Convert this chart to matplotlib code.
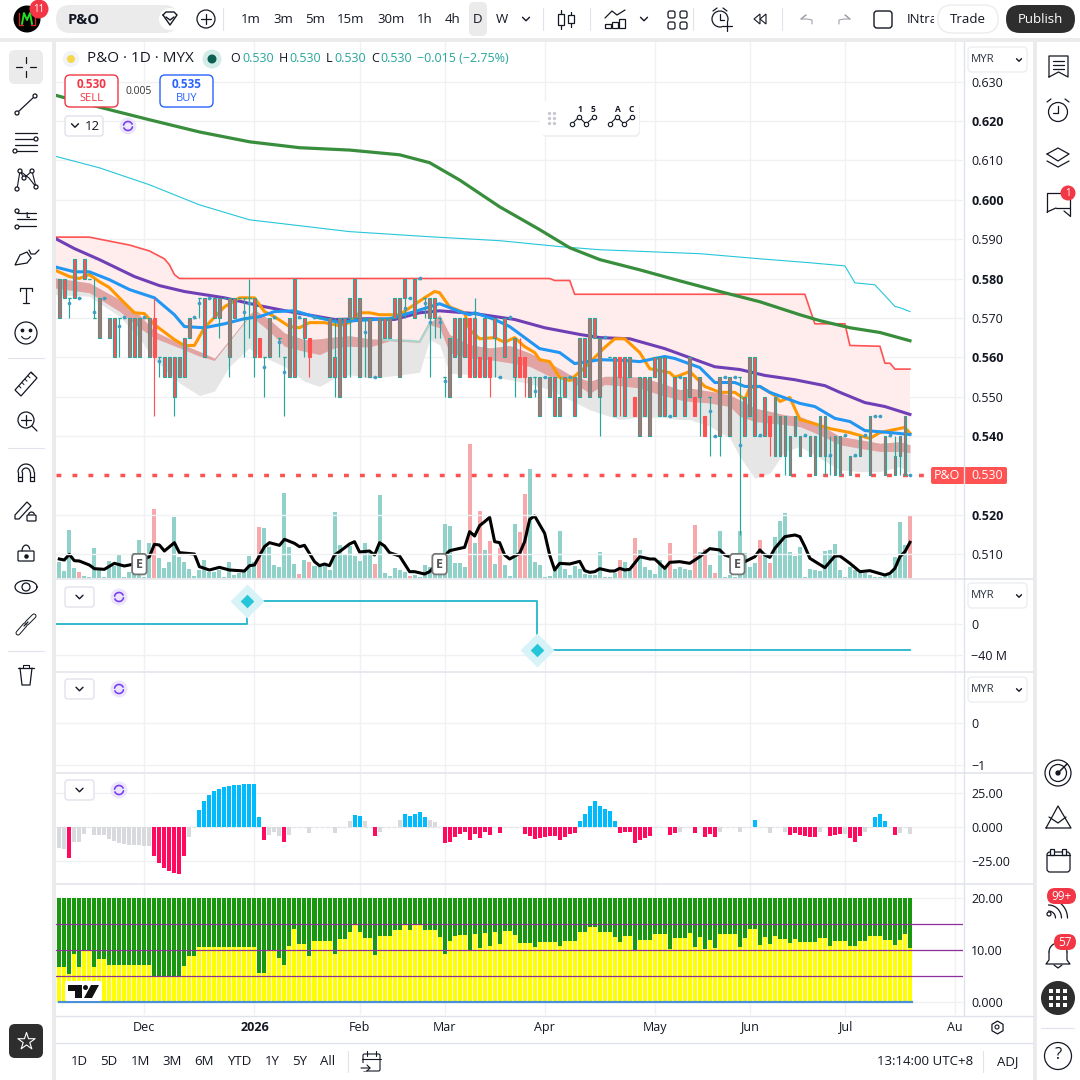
import numpy as np
import matplotlib
matplotlib.use('Agg')
import matplotlib.pyplot as plt
from matplotlib.patches import FancyBboxPatch, Circle, Rectangle, Polygon

plt.rcParams['font.family'] = ['Open Sans', 'DejaVu Sans']

# ---- data ----
candle_top = np.array([
    580,580,575,585,575,585,580,570,575,575, 570,570,570,570,570,570,570,570,570,570,
    560,560,560,560,560,565,570,570,575,575, 575,575,575,575,575,575,575,575,575,575,
    565,560,570,570,565,560,570,580,570,570, 565,570,570,570,570,560,570,570,575,580,
    575,570,570,555,570,570,570,575,575,580, 575,580,580,575,575,575,570,555,565,570,
    570,570,570,570,560,570,560,570,555,570, 570,565,560,560,555,555,555,555,555,555,
    550,555,555,555,565,565,570,570,565,565, 560,560,560,560,560,550,555,555,555,560,
    560,560,545,555,555,555,560,550,555,545, 550,540,555,555,555,555,555,550,560,560,
    540,550,545,550,545,545,540,545,540,540, 540,540,545,545,535,540,540,540,535,535,
    540,540,545,545,545,540,540,535,540,545, 530]) / 1000
candle_bot = np.array([
    570,575,575,575,575,580,580,570,565,575, 565,560,570,570,560,560,560,570,560,560,
    560,555,555,550,555,555,565,570,575,560, 575,570,570,575,560,570,575,575,575,560,
    560,560,560,570,565,560,555,555,570,565, 560,570,570,570,555,555,550,555,570,570,
    555,570,555,555,555,565,565,570,555,575, 575,570,580,575,570,570,570,555,550,560,
    555,560,555,555,555,555,555,565,555,560, 570,555,555,555,550,555,545,555,550,545,
    545,550,555,545,550,555,550,565,550,565, 560,545,555,545,555,545,540,545,540,555,
    545,545,545,545,555,545,550,545,550,540, 550,540,540,555,540,555,555,540,545,540,
    540,540,540,535,535,535,530,540,535,540, 535,530,535,535,535,530,530,540,530,535,
    535,540,530,545,545,530,540,530,535,530, 530]) / 1000
wick_high = {7:580, 19:575, 38:580, 55:570, 83:575, 92:565, 100:555, 154:540, 167:540}
wick_low = {2:570, 12:560, 19:545, 20:555, 23:545, 28:570, 32:565, 34:555, 37:560, 38:565, 39:555,
            41:550, 44:560, 45:545, 49:560, 50:555, 55:550, 58:555, 61:555, 69:570, 73:570, 74:555,
            75:565, 76:565, 77:550, 86:550, 87:555, 91:550, 93:550, 95:550, 108:540, 112:545,
            128:540, 130:535, 132:535, 136:515, 142:535, 145:530, 153:530, 154:530, 168:530}
solid_red = [19, 40, 50, 82, 84, 86, 92, 93, 112, 115, 127, 129, 142]

dot_idx = [2,4,7,9,12,13,17,20,27,28,30,37,38,41,43,44,45,48,51,61,63,69,70,72,73,74,76,77,88,90,95,97,
           102,109,122,124,130,131,133,135,136,140,149,154,157,159,161,163,164,166,170]
dot_val = [.5738,.5751,.5715,.5751,.5679,.5703,.5703,.5590,.5703,.5738,.5751,.5715,.5738,.5575,.5703,.5639,
           .5563,.5703,.5703,.5664,.5550,.5725,.5751,.5802,.5738,.5690,.5690,.5539,.5550,.5703,.5514,.5550,
           .5550,.5652,.5450,.5550,.5463,.5399,.5550,.5550,.5378,.5402,.5402,.5353,.5402,.5353,.5402,.5450,
           .5450,.5402,.5302]

volume = [49,22,144,29,17,6,4,89,24,4, 51,36,72,4,19,74,114,4,104,207,
          59,29,48,183,62,47,27,6,24,54, 19,19,24,4,48,9,16,19,66,49,
          153,150,92,39,34,255,94,43,13,54, 49,36,32,39,24,198,99,69,96,66,
          51,105,74,42,249,16,6,30,24,17, 6,9,4,39,32,54,9,162,156,45,
          45,33,402,105,201,84,111,42,90,39, 6,162,138,252,327,48,39,4,6,24,
          141,27,9,36,27,12,9,9,78,4, 4,16,54,48,24,120,84,33,24,12,
          54,30,105,27,33,27,24,159,78,87, 39,14,141,4,9,4,141,74,34,46,
          114,74,46,124,171,194,79,66,94,4, 26,24,21,81,84,101,24,4,34,24,
          14,14,9,4,4,9,9,64,168,99, 186]
volume_red = [4,19,40,48,50,63,70,82,84,86,88,92,93,112,115,122,127,129,131,140,142,170]

vol_ma_idx = [0,1,2,3,4,6,7,9,11,13,15,18,19,20,21,23,24,27,28,30,32,34,37,38,39,41,42,44,45,47,48,49,
              51,52,53,54,55,56,58,59,60,62,63,64,65,66,68,70,71,73,74,78,81,82,83,84,85,86,87,88,89,90,
              92,93,94,95,97,98,99,100,102,104,105,106,107,108,110,111,112,113,114,116,118,119,121,122,
              124,126,128,130,132,133,137,139,140,141,142,143,145,147,148,149,150,153,155,156,158,160,
              162,165,166,167,168,169,170]
vol_ma_val = [57,54,71,52,51,39,28,26,44,36,42,64,101,99,81,106,76,72,34,24,32,24,21,37,39,94,106,98,116,104,94,98,
              49,37,42,37,69,79,102,109,78,81,69,106,96,76,66,19,19,12,19,82,92,139,126,157,169,182,109,106,69,57,
              74,109,176,186,134,69,24,44,42,50,22,17,19,28,21,21,29,24,26,64,57,57,29,47,
              49,44,64,88,84,69,49,64,84,69,62,89,124,129,124,94,59,31,66,66,44,19,
              22,9,14,29,64,79,107]

sma200_idx = [-1,8,18,28,38,48,58,68,74,80,88,96,102,108,116,124,132,140,148,152,158,164,170]
sma200_val = [.6266,.6235,.6203,.6172,.6147,.6132,.6126,.6114,.6094,.6050,.5982,.5924,.5878,.5848,.5822,.5794,
              .5767,.5741,.5708,.5693,.5675,.5663,.5642]
cyan_idx = [-1,8,18,28,38,48,58,74,88,100,108,128,140,150,157,159,163,167,168,170]
cyan_val = [.6111,.6081,.6038,.5987,.5949,.5934,.5919,.5906,.5896,.5881,.5873,.5863,.5850,.5840,.5832,.5789,
            .5784,.5729,.5726,.5716]
upper_idx = [-1,6,10,14,18,21,22,23,24,98,99,102,103,149,151,157,158,164,165,166,167,170]
upper_val = [.5905,.5905,.5895,.5885,.587,.585,.5835,.581,.58,.58,.5795,.5795,.576,.576,.5685,.5685,.563,.5628,
             .5585,.5585,.557,.557]
purple_idx = [-1,3,8,15,20,25,33,40,46,55,62,67,72,76,83,91,97,104,108,114,121,126,131,136,141,147,153,156,161,165,170]
purple_val = [.5903,.5876,.5848,.5805,.5782,.5767,.5751,.5731,.5716,.5696,.5698,.5696,.5713,.5718,.5711,.5696,
              .5675,.5658,.5650,.5647,.5622,.5599,.5576,.5569,.5554,.5543,.5528,.5511,.5485,.5475,.5455]
blue_idx = [-1,3,6,10,14,19,23,25,29,33,37,40,43,47,51,56,59,63,66,71,76,80,82,83,87,90,96,100,103,108,113,116,
            121,123,128,131,135,137,140,142,148,151,155,158,161,166,170]
blue_val = [.5830,.5817,.5817,.5797,.5772,.5751,.5708,.5678,.5675,.5685,.5698,.5703,.5716,.5718,.5703,.5688,
            .5693,.5696,.5698,.5716,.5736,.5716,.5708,.5713,.5696,.5678,.5622,.5612,.5584,.5594,.5592,.5589,
            .5602,.5597,.5574,.5536,.5536,.5526,.5526,.5511,.5483,.5475,.5445,.5437,.5414,.5409,.5404]
orange_idx = [-1,2,4,6,8,10,12,15,17,19,23,25,27,29,33,36,39,41,43,46,48,50,53,56,58,60,62,64,68,71,73,75,76,78,
              81,82,84,87,89,91,93,95,96,98,100,102,105,109,111,113,116,118,122,123,126,129,132,135,137,138,140,
              143,144,146,148,150,154,158,162,164,169,170]
orange_val = [.5822,.5805,.58,.581,.5792,.5777,.5751,.5713,.5711,.5683,.5645,.5630,.5630,.5675,.5728,.5751,.5751,
              .5716,.5703,.5678,.5675,.5688,.5688,.5680,.5688,.5713,.5713,.5708,.5708,.5734,.5751,.5767,.5764,
              .5728,.5713,.5670,.5647,.5650,.5638,.5650,.5627,.5612,.5594,.5589,.5549,.5541,.5574,.5625,.5647,
              .5647,.5612,.5571,.5561,.5549,.5564,.5526,.5511,.5511,.5493,.5523,.5526,.5503,.5488,.5498,.5442,
              .5435,.5419,.5409,.5394,.5409,.5422,.5407]

band_idx = [-1,6,12,16,19,24,28,31,34,38,39,42,45,49,52,55,58,62,66,72,74,76,78,82,86,90,94,98,102,106,109,112,
            116,120,124,126,130,134,136,139,142,145,148,152,156,160,164,168,170]
band_top = [.5802,.5789,.5747,.5708,.5666,.5636,.5615,.5598,.5645,.5708,.5721,.5696,.5662,.5645,.5647,.5652,
            .5655,.5647,.5645,.5641,.5687,.5708,.5658,.5632,.5624,.5630,.5611,.5586,.5556,.5539,.5552,.5552,
            .5550,.5536,.5518,.5522,.5514,.5505,.5492,.5471,.5463,.5454,.5450,.5429,.5399,.5391,.5382,.5386,.5378]
band_bot = [.5776,.5764,.5717,.5675,.5649,.5624,.5603,.5592,.5641,.5704,.5697,.5666,.5628,.5615,.5607,.5624,
            .5628,.5626,.5642,.5638,.5683,.5675,.5611,.5598,.5594,.5586,.5577,.5552,.5542,.5509,.5531,.5528,
            .5522,.5505,.5492,.5488,.5484,.5475,.5450,.5437,.5433,.5429,.5424,.5403,.5378,.5369,.5361,.5361,.5358]
gray_bot = [.5759,.5755,.5704,.5649,.5594,.5535,.5503,.5514,.5577,.5624,.5611,.5594,.5577,.5539,.5526,.5547,
            .5556,.5547,.5552,.5562,.5645,.5632,.5560,.5556,.5552,.5543,.5533,.5518,.5492,.5467,.5454,.5442,
            .5448,.5448,.5442,.5442,.5425,.5395,.5348,.5293,.5306,.5361,.5374,.5344,.5314,.5310,.5310,.5323,.5306]
teal_idx = [64,70,72,74]
teal_val = [.5645,.5642,.5640,.5687]

earnings_idx = [16, 76, 135.5]
last_price = 0.530

fund_idx = [-1, 37.5, 37.5, 95.5, 95.5, 170]
fund_val = [0, 0, 30, 30, -33.5, -33.5]
fund_marks_idx = [37.5, 95.5]
fund_marks_val = [30, -33.5]

hist = [-15.7,-16.4,-23,-11.3,-11.3,-5.4,0,-6,-6,-6, -9,-10.5,-12,-12.7,-13.5,-13.5,-13.5,-14.2,-14.2,-21.6,
        -26.7,-30.4,-32.6,-34,-34.8,-21.6,-7.6,0,12.3,18.9, 23.3,26.2,27.7,29.2,29.9,30.6,30.6,31.4,31.4,31.4,
        7.1,-9.8,-6,-3.9,-6.9,-11.3,-6,0,0,0, -4.7,0,0,0,0,-4.7,0,0,4.2,8.6,
        7.8,4.2,0,-6.9,-3.9,0,0,0,4.9,9.3, 7.8,9.3,10.8,7.1,4.9,3.4,0,-12,-11.3,-7.6,
        -5.4,-3.9,-9.8,-5.4,-8.3,-3.9,-6,0,-4.7,0, 0,0,0,-5.4,-6.9,-9,-8.3,-7.6,-6.9,-6.9,
        -9.8,-7.6,-5.4,-4.7,4.2,9.3,15.2,18.9,15.2,13, 11.5,4.2,-4.7,-3.9,-3.9,-12,-9.8,-8.3,-6.9,0,
        0,0,-6,-4.7,-3.9,0,0,-4.7,0,-7.6, -5.4,-7.6,-3.9,0,0,0,-3.9,0,0,4.9,
        0,0,-4.7,0,0,-3.9,-6,-4.7,-6,-6.9, -7.6,-7.6,-3.9,0,-6.9,-6,-5.4,-5.4,-8.3,-11.3,
        -6.9,-3.9,0,7.1,9.3,4.2,0,-6,-4.7,0, -5.4]
hist_gray = [0,1,3,4,5,7,8,9,10,11,12,13,14,15,16,17,18,26,42,43,44,46,50,55,58,61,64,68,74,75,
             124,132,136,142,145,152,157,161,168,170]

yellow = [6.67,6.67,5.33,9.33,6.67,9.9,9.9,6.67,8.2,8.2, 7.05,7.05,7.05,7.05,7.05,7.05,7.05,7.05,7.05,4.76,
          4.76,4.76,4.76,4.76,4.76,6.86,8.76,8.76,10.67,10.67, 10.67,10.67,10.67,10.67,10.67,10.67,10.67,10.67,10.67,10.67,
          5.52,5.52,9.9,9.9,8.38,7.05,10.86,14.1,11.24,11.24, 8.76,11.81,11.81,11.81,11.81,9.33,12.19,12.19,13.52,14.86,
          13.52,12.38,12.38,8.95,12.76,12.76,12.76,13.9,13.9,14.86, 13.9,14.86,14.86,13.9,13.9,13.9,12.57,9.33,11.81,12.76,
          12.95,12.95,10.1,13.14,10.48,13.33,10.86,13.52,11.24,13.71, 13.71,12.95,11.43,11.43,11.43,10.67,11.62,11.62,11.62,11.62,
          10.86,11.81,11.81,11.81,13.52,13.52,14.48,14.48,13.52,13.52, 13.52,12.57,11.62,12.76,12.76,10.1,12,12,12,13.14,
          13.14,13.14,10.29,12.38,12.38,12.38,13.33,10.67,12.57,10.29, 12,10.48,13.14,13.14,13.14,13.14,10.67,12.38,14.1,14.1,
          11.05,12.57,11.24,12.76,12.19,12.19,11.43,12.19,11.62,11.62, 11.62,11.62,12.38,12.38,10.86,11.81,11.81,11.81,10.86,10.86,
          11.81,11.81,12.76,12.76,12.76,12,12,11.05,12,13.14, 10.48]
stack_total = 20
stack_levels = [5, 10, 15]

month_idx = [17, 39, 60, 77, 97, 119, 138, 157, 179]
month_labels = ['Dec', '2026', 'Feb', 'Mar', 'Apr', 'May', 'Jun', 'Jul', 'Au']

price_ticks = [.63, .62, .61, .60, .59, .58, .57, .56, .55, .54, .52, .51]
price_bold = [.62, .60, .58, .56, .54, .52]

TEAL = '#26a69a'
RED = '#ff5252'
GRID = '#f0f1f4'
SEP = '#e0e3eb'
INK = '#131722'
XLEFT, XRIGHT = -0.66, 180.6

fig = plt.figure(figsize=(10.8, 10.8), dpi=100)

# page background and panels
base = fig.add_axes([0, 0, 1, 1], zorder=0)
base.set_xlim(0, 1080); base.set_ylim(1080, 0); base.axis('off')
base.add_patch(Rectangle((0, 0), 1080, 1080, fc='#ebebeb', ec='none'))
for x0, y0, x1, y1 in [(0, 0, 1080, 38), (0, 42, 52, 1080), (56, 42, 1033, 1080), (1037, 42, 1080, 1080)]:
    base.add_patch(Rectangle((x0, y0), x1 - x0, y1 - y0, fc='white', ec='none'))


def pane(top, bottom, z=1):
    a = fig.add_axes([56 / 1080, 1 - bottom / 1080, (963 - 56) / 1080, (bottom - top) / 1080], zorder=z)
    a.patch.set_alpha(0)
    a.set_xlim(XLEFT, XRIGHT)
    for s in a.spines.values():
        s.set_visible(False)
    a.yaxis.tick_right()
    a.tick_params(axis='both', length=0, labelsize=9, labelcolor=INK, pad=6)
    a.set_xticks(month_idx)
    a.set_xticklabels([])
    a.grid(True, color=GRID, lw=1)
    a.set_axisbelow(True)
    return a


# ---- volume under the candles ----
ax_vol = pane(42, 578, 1)
ax_vol.set_ylim(0, 1608)
ax_vol.set_yticks([])
x = np.arange(len(volume))
vol_colors = ['#f7a8aa' if i in volume_red else '#90d2ca' for i in x]
ax_vol.bar(x, volume, width=0.8, color=vol_colors, linewidth=0)
ax_vol.plot(vol_ma_idx, vol_ma_val, color='black', lw=2.2, solid_joinstyle='round')

# ---- main price pane ----
ax = pane(42, 578, 2)
ax.set_ylim(0.50398, 0.64003)
ax.set_yticks(price_ticks)
ax.set_yticklabels(['%.3f' % p for p in price_ticks])
for lab, p in zip(ax.get_yticklabels(), price_ticks):
    if round(p, 2) in price_bold:
        lab.set_fontweight('bold')
ax.grid(True, axis='y', color=GRID, lw=1)
ax.grid(False, axis='x')

ax.fill(list(upper_idx) + band_idx[::-1], list(upper_val) + band_top[::-1], color='#ffecec', lw=0, zorder=1)
ax.fill_between(band_idx, band_top, gray_bot, color='#e6e6e6', lw=0, zorder=1.2)
ax.fill_between(band_idx, band_top, band_bot, color='#e2a3a3', lw=0, zorder=1.4)
ax.plot(teal_idx, teal_val, color='#a9d5cf', lw=1.5, zorder=1.5)
ax.plot(upper_idx, upper_val, color=RED, lw=1.2, zorder=2)
ax.plot(cyan_idx, cyan_val, color='#26c6da', lw=0.8, zorder=2)
ax.plot(sma200_idx, sma200_val, color='#388e3c', lw=2.3, zorder=2)
ax.plot(purple_idx, purple_val, color='#6f3fb5', lw=2.2, zorder=2)
ax.plot(orange_idx, orange_val, color='#ff9800', lw=2.2, zorder=2.1)
ax.plot(blue_idx, blue_val, color='#2196f3', lw=2.2, zorder=2.2)
ax.plot([XLEFT, XRIGHT], [last_price, last_price], color=RED, lw=2.5, linestyle=(0, (1.4, 3.2)), zorder=2.3)

high = candle_top.copy()
low = candle_bot.copy()
for k, v in wick_high.items():
    high[k] = v / 1000
for k, v in wick_low.items():
    low[k] = v / 1000
edge = [RED if i in solid_red else TEAL for i in range(len(candle_top))]
ax.vlines(np.arange(len(high)), low, high, colors=edge, lw=0.85, zorder=3)
ax.bar(np.arange(len(high)), candle_top - candle_bot, bottom=candle_bot, width=0.54,
       facecolor=RED, edgecolor=edge, linewidth=0.8, zorder=3.1)
flat = np.where(candle_top == candle_bot)[0]
ax.hlines(candle_top[flat], flat - 0.3, flat + 0.3, colors=TEAL, lw=0.9, zorder=3.1)
ax.scatter(dot_idx, dot_val, s=7, color='#3d9fc6', linewidths=0, zorder=3.3)
for e in earnings_idx:
    ax.text(e, 0.5075, 'E', fontsize=9, fontweight='bold', color='#555555', ha='center', va='center', zorder=4,
            bbox=dict(boxstyle='round,pad=0.3,rounding_size=0.25', fc='white', ec='#777777', lw=1.3))

# ---- step line pane ----
ax2 = pane(579, 671)
ax2.set_ylim(-60.6, 58)
ax2.set_yticks([0, -40])
ax2.set_yticklabels(['0', '\u221240 M'])
ax2.plot(fund_idx, fund_val, color='#22b5cc', lw=1.3)
ax2.scatter(fund_marks_idx, fund_marks_val, marker='D', s=300, color='#d7f3f7', linewidths=0, zorder=3)
ax2.scatter(fund_marks_idx, fund_marks_val, marker='D', s=48, color='#26c6da', linewidths=0, zorder=4)

# ---- empty pane ----
ax3 = pane(672, 772)
ax3.set_ylim(-1.17, 1.2)
ax3.set_yticks([0, -1])
ax3.set_yticklabels(['0', '\u22121'])

# ---- histogram pane ----
ax4 = pane(773, 883)
ax4.set_ylim(-41.2, 39.7)
ax4.set_yticks([25, 0, -25])
ax4.set_yticklabels(['25.00', '0.000', '\u221225.00'])
hist_colors = []
for i, v in enumerate(hist):
    if i in hist_gray:
        hist_colors.append('#d9dadd')
    elif v > 0:
        hist_colors.append('#00bcff')
    else:
        hist_colors.append('#ff0a5f')
ax4.bar(x, hist, width=0.8, color=hist_colors, linewidth=0, zorder=2)
ax4.plot([0, 170], [0, 0], color='#e3e4e7', lw=0.8, linestyle=(0, (3, 2)), zorder=1)

# ---- stacked pane ----
ax5 = pane(884, 1015)
ax5.set_ylim(-2.5, 22.7)
ax5.set_yticks([20, 10, 0])
ax5.set_yticklabels(['20.00', '10.00', '0.000'])
ax5.set_xticks(month_idx)
ax5.set_xticklabels(month_labels, fontsize=9)
ax5.get_xticklabels()[1].set_fontweight('bold')
ax5.tick_params(axis='x', pad=4)
yellow_arr = np.array(yellow)
ax5.bar(x, yellow_arr, width=0.8, color='#ffff00', linewidth=0, zorder=2)
ax5.bar(x, stack_total - yellow_arr, bottom=yellow_arr, width=0.8, color='#18980c', linewidth=0, zorder=2)
for lv in stack_levels:
    ax5.axhline(lv, color='#8e2f9e', lw=0.9, zorder=3)
ax5.plot([XLEFT + 0.6, 170.4], [0, 0], color='#4a90d9', lw=1.6, zorder=3)

# ---- chrome drawn on a pixel overlay ----
ui = fig.add_axes([0, 0, 1, 1], zorder=10)
ui.set_xlim(0, 1080); ui.set_ylim(1080, 0); ui.axis('off'); ui.patch.set_alpha(0)


def line(xs, ys, lw=0.9, c=INK, **kw):
    kw.setdefault('zorder', 3.5)
    ui.plot(xs, ys, color=c, lw=lw, solid_capstyle='round', **kw)


def rbox(x0, y0, x1, y1, r=4, fc='white', ec='none', lw=1.0, z=2):
    ui.add_patch(FancyBboxPatch((x0, y0), x1 - x0, y1 - y0, boxstyle='round,pad=0,rounding_size=%g' % r,
                                fc=fc, ec=ec, lw=lw, zorder=z))


def circ(cx, cy, r, fc='none', ec=INK, lw=0.9, z=3):
    ui.add_patch(Circle((cx, cy), r, fc=fc, ec=ec, lw=lw, zorder=z))


def txt(tx, ty, s, size=9, c=INK, ha='left', w='normal', z=5):
    ui.text(tx, ty, s, fontsize=size, color=c, ha=ha, va='center', fontweight=w, zorder=z)


def chevron(cx, cy, s=3.5, c=INK, lw=1.0):
    line([cx - s, cx, cx + s], [cy - s / 2, cy + s / 2, cy - s / 2], lw=lw, c=c)


def refresh(cx, cy):
    circ(cx, cy, 8.5, fc='#ece6fa', ec='none')
    ang = np.linspace(0.2, 2.7, 20)
    line(cx + 4.5 * np.cos(ang), cy + 4.5 * np.sin(ang), lw=1.2, c='#7a3ff0')
    line(cx - 4.5 * np.cos(ang), cy - 4.5 * np.sin(ang), lw=1.2, c='#7a3ff0')


def chain(x0, y0, x1, y1):
    line([x0, x1], [y0, y1], lw=3.6, c=INK)
    line([x0, x1], [y0, y1], lw=2.2, c='white', zorder=3.6)


# pane separators and scale border
for yy in [578.5, 671.5, 772.5, 883.5]:
    line([56, 1033], [yy, yy], lw=1.1, c=SEP)
line([56, 1033], [1015.5, 1015.5], lw=1.0, c=SEP)
line([56, 1033], [1042.5, 1042.5], lw=1.0, c=SEP)
line([963.5, 963.5], [42, 1015], lw=1.0, c=SEP)

# top toolbar
circ(27, 19, 13.5, fc='black', ec='none')
line([19, 19, 23], [13, 25, 25], lw=1.0, c='#dd2222')
line([35, 35, 31], [13, 25, 25], lw=1.0, c='#dd2222')
line([22, 24, 27, 30, 32], [24, 13, 20, 13, 24], lw=1.4, c='#22dd22')
circ(39, 9, 9.5, fc='#f23645', ec='none', z=4)
txt(39, 9.5, '11', 7, 'white', 'center')
rbox(56, 5, 178, 33, 14, fc='#ebebeb')
txt(68, 19.5, 'P&O', 10.5, INK, w='bold')
circ(170, 19, 11, fc='white', ec='none')
line([163, 166, 174, 177, 170, 163], [15, 12, 12, 15, 25, 15], lw=1.0)
line([166, 170, 174], [17, 20, 17], lw=1.0)
circ(206, 19, 9)
line([201, 211], [19, 19]); line([206, 206], [14, 24])
for sx in [223, 543, 590, 693, 782]:
    line([sx, sx], [8, 30], lw=0.8, c='#e0e3eb')
rbox(469, 2, 487, 36, 5, fc='#ebebeb')
for s, tx in zip(['1m', '3m', '5m', '15m', '30m', '1h', '4h', 'D', 'W'], [251, 283, 315, 351, 391, 425, 453, 478, 502]):
    txt(tx, 19.5, s, 9.5, ha='center')
chevron(526, 19)
chevron(644, 19)
# candles icon
line([561, 561], [10, 14]); line([561, 561], [25, 29])
ui.add_patch(Rectangle((558, 14), 6, 11, fc='white', ec=INK, lw=0.9, zorder=3))
line([571, 571], [12, 15]); line([571, 571], [23, 27])
ui.add_patch(Rectangle((568, 15), 6, 8, fc='white', ec=INK, lw=0.9, zorder=3))
# chart icon
line([605, 612, 617, 625], [18, 11, 15, 10], lw=0.9)
for bx, by in [(605, 24), (612, 22), (619, 19)]:
    ui.add_patch(Rectangle((bx, by), 6, 28 - by, fc='white', ec=INK, lw=0.9, zorder=3))
for qx, qy in [(668, 11), (680, 11), (668, 22), (680, 22)]:
    rbox(qx, qy, qx + 7, qy + 7, 2, fc='white', ec=INK, lw=0.9, z=3)
circ(720, 19, 8)
line([720, 720, 724], [14, 20, 20])
line([713, 717], [11, 8]); line([727, 723], [11, 8])
ui.add_patch(Circle((727, 26), 5, fc='white', ec='none', zorder=3.2))
line([722, 732], [26, 26]); line([727, 727], [21, 31])
ui.add_patch(Polygon([[754, 19], [760, 14], [760, 24]], closed=True, fc='white', ec=INK, lw=0.8, zorder=3))
ui.add_patch(Polygon([[760, 19], [766, 14], [766, 24]], closed=True, fc='white', ec=INK, lw=0.8, zorder=3))
line([801, 806, 801, 807, 812, 812], [19, 15, 19, 19, 20, 24], lw=0.8, c='#a0a3ab')
line([850, 845, 850, 844, 839, 839], [19, 15, 19, 19, 20, 24], lw=0.8, c='#a0a3ab')
rbox(874, 11, 892, 28, 3, fc='white', ec=INK, lw=1.0)
ui.text(907, 19.5, 'INtra', fontsize=9.5, color=INK, va='center', zorder=2)
ui.add_patch(Rectangle((934, 8), 6, 22, fc='white', ec='none', zorder=2.5))
rbox(938, 5, 998, 33, 14, fc='white', ec='#ececec', lw=1.0, z=3)
txt(968, 19.5, 'Trade', 9.5, ha='center')
rbox(1006, 5, 1075, 33, 14, fc='#2e2e2e')
txt(1040.5, 19.5, 'Publish', 9.5, 'white', 'center')

# legend row
circ(71, 59, 8, fc='#f0f3fa', ec='none')
circ(71, 59, 4, fc='#f5d84a', ec='none', z=4)
txt(87, 59, 'P&O \u00b7 1D \u00b7 MYX', 11)
circ(212, 59, 9.5, fc='#d3ece8', ec='none')
circ(212, 59, 4.5, fc='#0b5f53', ec='none', z=4)
ohlc_green = '#26a69a'
for lx, vx, s in [(230, 242, 'O'), (279, 289, 'H'), (326, 334, 'L'), (371, 380, 'C')]:
    txt(lx, 59, s, 9)
    txt(vx, 59, '0.530', 9, ohlc_green)
txt(417, 59, '\u22120.015 (\u22122.75%)', 9, ohlc_green)
rbox(65, 75, 118, 107, 5, fc='white', ec='#f23645', lw=1.0)
txt(91.5, 84.5, '0.530', 8.5, '#f23645', 'center', 'bold')
txt(91.5, 98.5, 'SELL', 8, '#f23645', 'center')
txt(139, 91, '0.005', 7.5, '#333333', 'center')
rbox(160, 75, 213, 107, 5, fc='white', ec='#2962ff', lw=1.0)
txt(186.5, 84.5, '0.535', 8.5, '#2962ff', 'center', 'bold')
txt(186.5, 98.5, 'BUY', 8, '#2962ff', 'center')

# indicator buttons
rbox(65, 116, 103, 136, 3, fc='white', ec='#e0e3eb', lw=1.0)
chevron(75, 125.5)
txt(92, 126, '12', 9.5, ha='center')
refresh(128, 126)
for by in [597, 689, 790]:
    rbox(65, by - 10, 94, by + 10, 3, fc='white', ec='#e0e3eb', lw=1.0)
    chevron(79.5, by)
    refresh(119, by)

# pattern widget
rbox(542, 103, 640, 137, 5, fc='#f0f0f2', ec='none', z=2)
rbox(540, 101, 639, 135, 5, fc='white', ec='none', z=2)
for dy in [113, 118, 123]:
    ui.scatter([549, 554], [dy, dy], s=2, color='#c8cad0', zorder=3)
for ox, a, b in [(570, '1', '5'), (608, 'A', 'C')]:
    wx = [ox + 2, ox + 9, ox + 16, ox + 24]
    wy = [124, 117, 124, 117]
    line(wx, wy, lw=0.8)
    ui.scatter(wx, wy, s=10, fc='white', ec=INK, lw=0.8, zorder=4)
    txt(ox + 10, 109, a, 6, ha='center', w='bold')
    txt(ox + 23, 109, b, 6, ha='center', w='bold')

# scale buttons
for by in [60, 596, 690]:
    rbox(968, by - 13, 1027, by + 12, 4, fc='white', ec='#eceef2', lw=1.0)
    txt(971, by - 0.5, 'MYR', 8.2, '#2a3140')
    chevron(1019, by, s=2.5)

# price label
rbox(931, 467, 1007, 484, 2, fc=RED)
txt(934, 475.5, 'P&O', 9, 'white')
txt(971, 475.5, '0.530', 9, 'white')

# tv logo
rbox(65, 981, 101, 1001, 2, fc='white', z=2)
ui.add_patch(Polygon([[68, 985], [82, 985], [82, 998], [75, 998], [75, 991], [68, 991]], fc='#111111', ec='none', zorder=3))
circ(85.5, 987.5, 2.5, fc='#111111', ec='none')
ui.add_patch(Polygon([[91, 985], [99, 985], [92, 998], [84, 998]], fc='#111111', ec='none', zorder=3))

# bottom bar
for s, tx in zip(['1D', '5D', '1M', '3M', '6M', 'YTD', '1Y', '5Y', 'All'], [79, 109, 140, 172, 204, 239, 272, 300, 328]):
    txt(tx, 1061.5, s, 9.5, ha='center')
line([348, 348], [1051, 1072], lw=0.8, c='#e0e3eb')
rbox(363, 1054, 380, 1071, 1.5, fc='white', ec=INK, lw=0.8)
line([362, 381], [1059, 1059], lw=0.8); line([367, 367], [1051, 1056], lw=0.8); line([376, 376], [1051, 1056], lw=0.8)
ui.add_patch(Rectangle((358, 1063), 8, 8, fc='white', ec='none', zorder=3))
line([361, 370, 367], [1068, 1068, 1065], lw=0.8, zorder=4)
line([370, 367], [1068, 1071], lw=0.8, zorder=4)
txt(973, 1061.5, '13:14:00 UTC+8', 9.5, ha='right')
line([983, 983], [1051, 1072], lw=0.8, c='#e0e3eb')
txt(1008, 1061.5, 'ADJ', 9.5, ha='center')
ui.scatter([997], [1027], marker='h', s=85, fc='white', ec=INK, lw=0.9, zorder=3)
circ(997, 1027, 2, lw=0.8, z=4)

# left toolbar
rbox(9, 50, 43, 84, 6, fc='#ebebeb')
line([26, 26], [57, 63]); line([26, 26], [71, 77]); line([16, 22], [67, 67]); line([30, 36], [67, 67])
line([18, 34], [112, 97]); circ(17, 113, 2, fc='white', z=4); circ(35, 96, 2, fc='white', z=4)
line([15, 37], [133, 133]); line([15, 37], [139, 139]); line([15, 37], [145, 145]); line([15, 37], [151, 151])
circ(36, 139, 2, fc='white', z=4); circ(15, 151, 2, fc='white', z=4)
pitch_x = [17, 20, 24, 32, 36, 29, 20]
pitch_y = [189, 171, 178, 171, 187, 178, 171]
line(pitch_x, pitch_y, lw=0.8)
for px, py in zip(pitch_x[:5], pitch_y[:5]):
    circ(px, py, 2, fc='white', z=4)
line([17, 36], [213, 213]); line([17, 36], [226, 226]); line([17, 36], [219, 219])
circ(17, 211, 2, fc='white', z=4); circ(17, 227, 2, fc='white', z=4)
txt(27, 216, 'L', 5.5, ha='center', w='bold')
brush = Polygon([[15, 265], [20, 255], [27, 252], [31, 258], [27, 263]], closed=True, fc='white', ec=INK, lw=0.9)
ui.add_patch(brush)
line([29, 31, 35, 39], [250, 254, 254, 250], lw=0.9)
line([20, 32], [288, 288]); line([26, 26], [288, 303]); line([20, 20], [288, 291]); line([32, 32], [288, 291]); line([23, 29], [303, 303])
circ(26, 333, 11)
ui.scatter([22, 30], [330, 330], s=3, color=INK, zorder=4)
ang = np.linspace(0.5, np.pi - 0.5, 12)
line(26 + 5 * np.cos(ang), 334 + 5 * np.sin(ang), lw=0.8)
line([8, 44], [357.5, 357.5], lw=0.8, c='#e0e3eb')
ui.add_patch(Polygon([[15, 390], [31, 372], [37, 378], [21, 396]], closed=True, fc='white', ec=INK, lw=0.9, zorder=3))
for tk in range(5):
    line([19 + tk * 3, 21 + tk * 3], [386 - tk * 3.4, 388 - tk * 3.4], lw=0.7)
circ(26, 420, 8)
line([21, 31], [420, 420]); line([26, 26], [415, 425]); line([32, 37], [426, 431])
line([8, 44], [447.5, 447.5], lw=0.8, c='#e0e3eb')
ang = np.linspace(np.pi, 2 * np.pi, 14)
line(26 + 8 * np.cos(ang), 472 + 8 * np.sin(ang), lw=0.9)
line(26 + 4 * np.cos(ang), 472 + 4 * np.sin(ang), lw=0.9)
line([18, 18, 22, 22], [472, 481, 481, 472]); line([30, 30, 34, 34], [472, 481, 481, 472])
line([18, 22], [477, 477]); line([30, 34], [477, 477])
ui.add_patch(Polygon([[15, 515], [27, 502], [31, 506], [19, 519], [15, 519]], closed=True, fc='white', ec=INK, lw=0.9, zorder=3))
rbox(27, 515, 36, 521, 1, fc='white', ec=INK, lw=0.9, z=4)
ang = np.linspace(np.pi, 1.9 * np.pi, 8)
line(31.5 + 3 * np.cos(ang), 515 + 3 * np.sin(ang), lw=0.9)
rbox(18, 551, 34, 561, 1, fc='white', ec=INK, lw=0.9)
ang = np.linspace(np.pi, 1.9 * np.pi, 8)
line(26 + 4 * np.cos(ang), 551 + 6 * np.sin(ang), lw=0.9)
ui.scatter([26], [556], s=5, color=INK, zorder=5)
ang = np.linspace(0, 2 * np.pi, 40)
line(26 + 11 * np.cos(ang), 587 + 6.5 * np.sin(ang), lw=0.9)
circ(26, 587, 4)
chain(18, 633, 25, 625)
chain(27, 623, 34, 616)
line([24, 28], [626, 622], lw=0.9, zorder=3.7)
line([8, 44], [650.5, 650.5], lw=0.8, c='#e0e3eb')
line([18, 34], [668, 668]); line([23, 23, 29, 29], [668, 665, 665, 668], lw=0.8)
line([20, 22, 30, 32], [668, 685, 685, 668])

rbox(9, 1024, 43, 1058, 6, fc='#2e2e2e')
ui.scatter([26], [1041], marker='*', s=170, fc='#2e2e2e', ec='white', lw=0.8, zorder=4)

# right toolbar
line([1049, 1049, 1068, 1068, 1058.5, 1049], [77, 56, 56, 77, 72, 77])
for yy in [61, 65, 69]:
    line([1053, 1064], [yy, yy])
circ(1058, 112, 9.5)
line([1058, 1058, 1053], [106, 113, 113])
line([1047, 1051], [102, 99]); line([1069, 1065], [102, 99])
line([1047, 1058, 1069, 1058, 1047], [154, 148, 154, 161, 154])
line([1047, 1058, 1069], [161, 167, 161])
line([1047, 1047, 1050, 1056, 1066], [212, 193, 193, 193, 193])
line([1047, 1056], [212, 208]); line([1056, 1070], [208, 208])
line([1070, 1070], [196, 216]); line([1070, 1064], [216, 211])
circ(1068, 193, 7.5, fc='#f23645', ec='none', z=4)
txt(1068, 193.5, '1', 7, 'white', 'center')
circ(1058, 773, 13); circ(1058, 773, 8.5); circ(1058, 773, 2, fc=INK)
line([1058, 1067], [773, 764], lw=1.1)
line([1046, 1058, 1071, 1046], [828, 806, 828, 828])
line([1049, 1058, 1066], [817, 823, 817], lw=0.9)
rbox(1047, 852, 1070, 872, 3, fc='white', ec=INK, lw=0.9)
for cx in [1052, 1064]:
    ui.add_patch(Rectangle((cx - 2, 849), 4, 6, fc='white', ec=INK, lw=0.9, zorder=3))
line([1047, 1070], [855, 855], lw=0.9)
circ(1049, 914, 2)
for rr in [7, 13, 19]:
    ang = np.linspace(-np.pi / 2, 0, 12)
    line(1049 + rr * np.cos(ang) - 0.5, 918 + rr * np.sin(ang), lw=0.9)
rbox(1047, 888, 1076, 904, 8, fc='#f23645', z=4)
txt(1061.5, 896.5, '99+', 8.5, 'white', 'center')
ang = np.linspace(np.pi, 2 * np.pi, 14)
line(1058 + 9 * np.cos(ang), 952 + 9 * np.sin(ang), lw=0.9)
line([1049, 1049, 1046, 1070, 1067, 1067], [952, 960, 964, 964, 960, 952])
line([1054, 1058, 1062], [965, 968, 965], lw=0.9)
rbox(1054, 934, 1076, 950, 8, fc='#f23645', z=4)
txt(1065, 942.5, '57', 8.5, 'white', 'center')
circ(1058, 998, 17, fc='#2e2e2e', ec='none')
for gx in [1051, 1058, 1065]:
    for gy in [991, 998, 1005]:
        ui.add_patch(Rectangle((gx - 2, gy - 2), 4, 4, fc='white', ec='none', zorder=4))
line([1041, 1074], [1027.5, 1027.5], lw=0.8, c='#e0e3eb')
circ(1058, 1056, 13.5)
txt(1058, 1055, '?', 12, ha='center')

fig.savefig('out.png', dpi=100)
